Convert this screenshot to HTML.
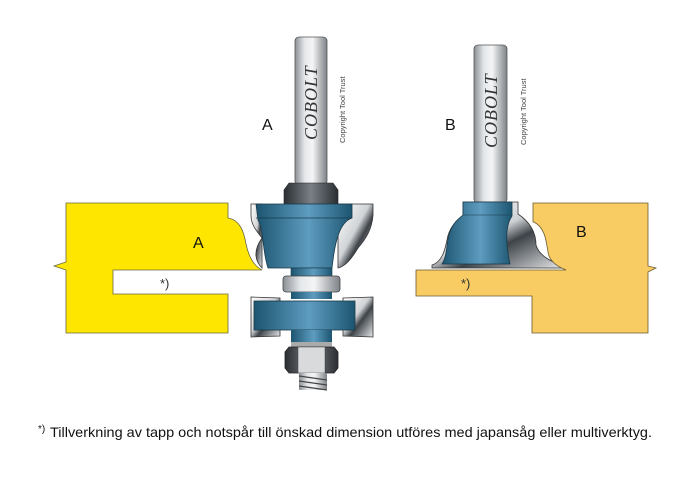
<!DOCTYPE html>
<html><head><meta charset="utf-8"><style>
html,body{margin:0;padding:0;background:#fff;}
svg{display:block;}
</style></head><body>
<svg width="700" height="479" viewBox="0 0 700 479" xmlns="http://www.w3.org/2000/svg" font-family="Liberation Sans, sans-serif">
<defs>
<linearGradient id="shank" x1="0" x2="1" y1="0" y2="0">
<stop offset="0" stop-color="#8a8f94"/><stop offset="0.3" stop-color="#e4e7ea"/><stop offset="0.55" stop-color="#f4f5f6"/><stop offset="1" stop-color="#7d8287"/>
</linearGradient>
<linearGradient id="blue" x1="0" x2="1" y1="0" y2="0">
<stop offset="0" stop-color="#1c5570"/><stop offset="0.55" stop-color="#5e9cc0"/><stop offset="1" stop-color="#1c5570"/>
</linearGradient>
<linearGradient id="dark" x1="0" x2="1" y1="0" y2="0">
<stop offset="0" stop-color="#2a2e33"/><stop offset="0.5" stop-color="#7a8086"/><stop offset="1" stop-color="#2a2e33"/>
</linearGradient>
<linearGradient id="steel" x1="0" x2="1" y1="0" y2="1">
<stop offset="0" stop-color="#ffffff"/><stop offset="0.45" stop-color="#d0d3d6"/><stop offset="0.6" stop-color="#3d4348"/><stop offset="1" stop-color="#e8eaec"/>
</linearGradient>
</defs>

<!-- Yellow workpiece A -->
<path d="M66,203 L228,203 L228,218 C240,220 244,232 246,244 C249,258 254,266 262,270 L113,270 L113,294 L228,294 L228,333 L66,333 L66,270 L54,266 L66,262 Z" fill="#ffe600" stroke="#6a6a40" stroke-width="0.8"/>
<text x="193" y="248" font-size="16" fill="#111">A</text>
<text x="160" y="288" font-size="13" fill="#333">*)</text>

<!-- Bit A -->
<rect x="295" y="37" width="32" height="148" rx="4" fill="url(#shank)" stroke="#555" stroke-width="0.8"/>
<text transform="translate(317,140) rotate(-90)" font-family="Liberation Serif, serif" font-style="italic" font-size="18" fill="#333" letter-spacing="1">COBOLT</text>
<text transform="translate(345,143) rotate(-90)" font-size="7.5" fill="#444">Copyright Tool Trust</text>
<path d="M289,183 L333,183 L338,190 L338,204 L284,204 L284,190 Z" fill="url(#dark)" stroke="#222" stroke-width="0.6"/>
<!-- top cutter wings -->
<path d="M251,204 L262,204 L262,268 C256,262 252,252 262,238 C256,230 251,225 251,215 Z" fill="url(#steel)" stroke="#333" stroke-width="0.8"/>
<path d="M338,204 L373,204 L373,215 C372,230 365,240 358,248 C352,258 346,266 338,268 Z" fill="url(#steel)" stroke="#333" stroke-width="0.8"/>
<path d="M256,204 L352,204 L352,218 C340,222 335,240 332,268 L268,268 C262,250 264,230 258,220 Z" fill="url(#blue)" stroke="#1a3a4a" stroke-width="0.8"/>
<line x1="256" y1="218" x2="352" y2="218" stroke="#1a3a4a" stroke-width="0.8"/>
<rect x="291" y="268" width="41" height="9" fill="url(#blue)" stroke="#1a3a4a" stroke-width="0.6"/>
<rect x="283" y="276" width="57" height="16" rx="3" fill="url(#shank)" stroke="#444" stroke-width="0.8"/>
<rect x="291" y="292" width="41" height="7" fill="url(#blue)"/>
<!-- lower cutter -->
<path d="M251,297 L280,298 L280,336 L251,337 Z" fill="url(#steel)" stroke="#333" stroke-width="0.8"/>
<path d="M343,298 L373,297 L373,337 L343,336 Z" fill="url(#steel)" stroke="#333" stroke-width="0.8"/>
<rect x="254" y="301" width="101" height="29" fill="url(#blue)" stroke="#1a3a4a" stroke-width="0.8"/>
<rect x="291" y="330" width="41" height="14" fill="url(#blue)"/>
<rect x="291" y="342" width="41" height="5" fill="#aaa"/>
<!-- nut -->
<path d="M289,347 L334,347 L338,352 L338,368 L334,373 L289,373 L285,368 L285,352 Z" fill="url(#dark)" stroke="#222" stroke-width="0.8"/>
<rect x="298" y="347" width="27" height="26" fill="#d8dadc" stroke="#444" stroke-width="0.5"/>
<rect x="299" y="373" width="28" height="17" fill="url(#shank)"/>
<g stroke="#444" stroke-width="1.2"><line x1="299" y1="376" x2="327" y2="380"/><line x1="299" y1="381" x2="327" y2="385"/><line x1="299" y1="386" x2="327" y2="390"/></g>
<text x="262" y="130" font-size="16" fill="#111">A</text>

<!-- Bit B -->
<rect x="474" y="45" width="33" height="158" rx="4" fill="url(#shank)" stroke="#555" stroke-width="0.8"/>
<text transform="translate(497,148) rotate(-90)" font-family="Liberation Serif, serif" font-style="italic" font-size="18" fill="#333" letter-spacing="1">COBOLT</text>
<text transform="translate(526,145) rotate(-90)" font-size="7.5" fill="#444">Copyright Tool Trust</text>
<text x="445" y="130" font-size="16" fill="#111">B</text>
<!-- silver profile -->
<path d="M463,202 L518,202 L518,214 C530,222 536,232 536,245 C540,258 555,263 565,266 L565,268 L432,268 L432,265 C442,262 445,250 447,240 C449,228 455,222 463,216 Z" fill="url(#steel)" stroke="#333" stroke-width="0.8"/>
<path d="M463,202 L512,202 L512,216 C505,226 506,245 510,264 L442,264 C448,255 446,240 450,232 C453,222 460,218 463,215 Z" fill="url(#blue)" stroke="#1a3a4a" stroke-width="0.8"/>
<line x1="463" y1="215" x2="512" y2="215" stroke="#1a3a4a" stroke-width="0.6"/>

<!-- Yellow workpiece B -->
<path d="M533,203 L648,203 L648,266 L656,268 L648,272 L648,333 L532,333 L532,296 L416,296 L416,270 L566,270 C556,266 549,260 548,252 C546,240 545,228 534,222 L533,222 Z" fill="#f9cc63" stroke="#6a5a30" stroke-width="0.8"/>
<text x="576" y="237" font-size="16" fill="#111">B</text>
<text x="461" y="288" font-size="13" fill="#333">*)</text>

<!-- Footnote -->
<text x="38" y="432" font-size="10" fill="#111">*)</text>
<text x="50" y="437" font-size="14" fill="#111" textLength="602" lengthAdjust="spacingAndGlyphs">Tillverkning av tapp och notspår till önskad dimension utföres med japansåg eller multiverktyg.</text>
</svg>
</body></html>
